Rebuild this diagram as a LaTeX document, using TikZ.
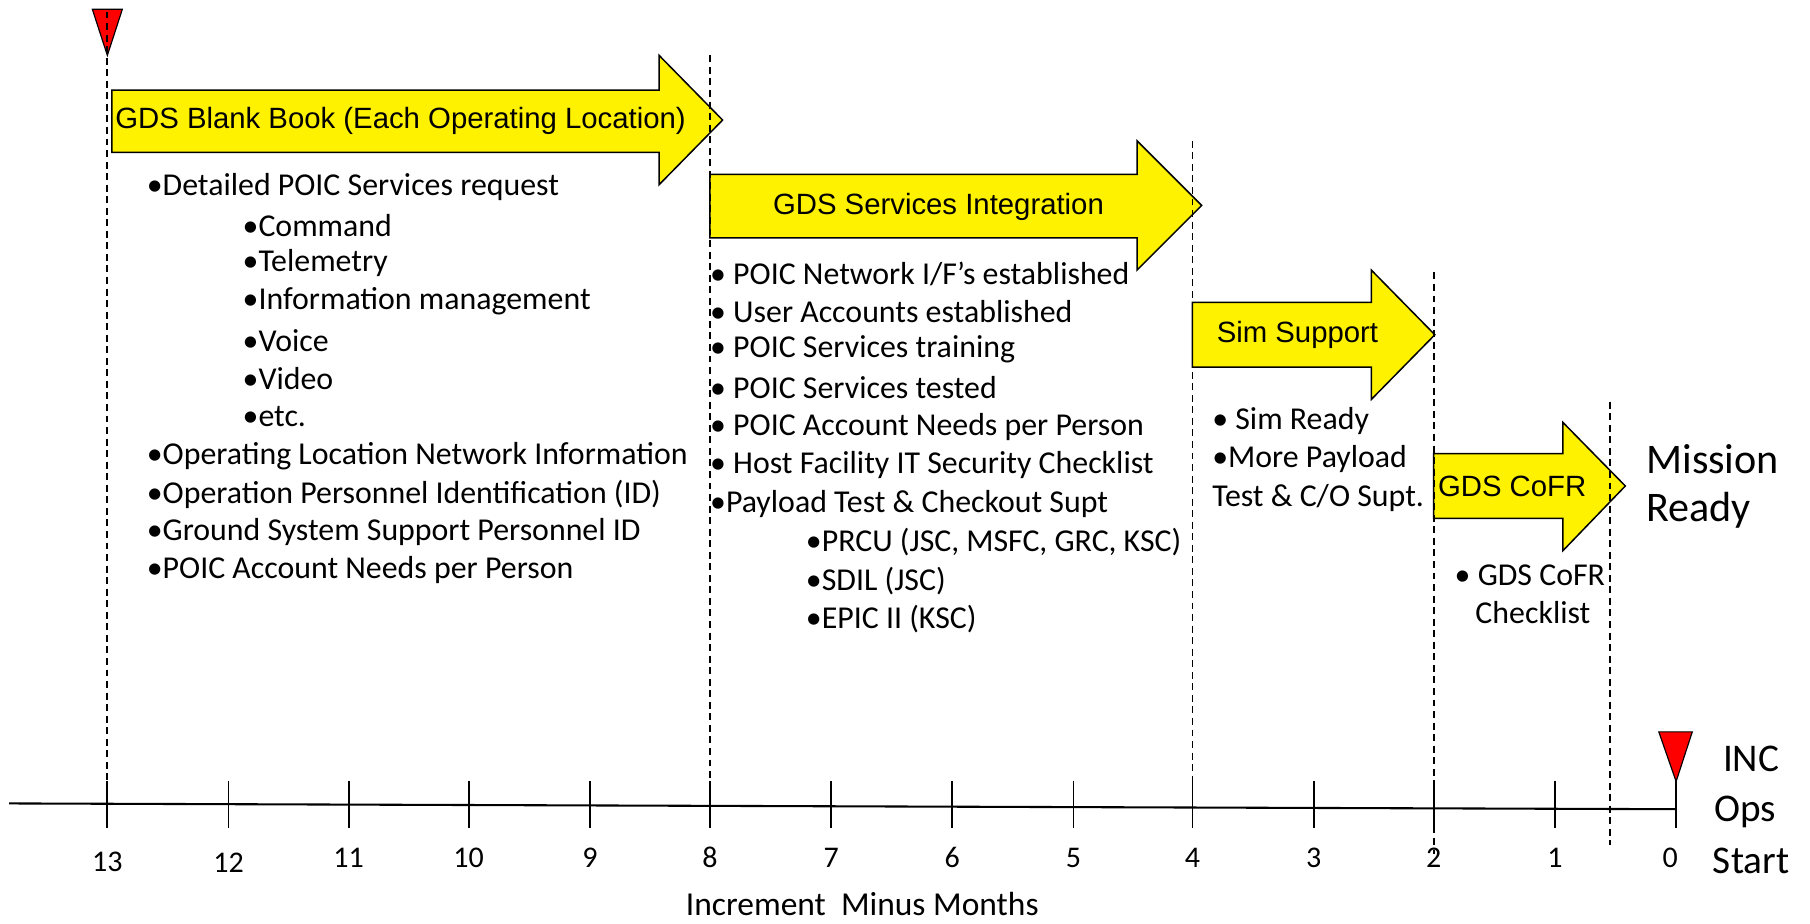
\documentclass[tikz,border=0pt]{standalone}
\usepackage{fontspec}
\setmainfont{Carlito}
\newfontfamily\arial{Liberation Sans}
\begin{document}
\begin{tikzpicture}[x=1pt,y=-1pt,
  dline/.style={dash pattern=on 6pt off 4pt, line width=1.6pt},
  yarrow/.style={fill=yellow, draw=black, line width=1.3pt, line join=miter},
  tri/.style={fill=red, draw=black, line width=1pt},
  item/.style={anchor=west, inner sep=0pt, font=\fontsize{27.6}{32}\selectfont},
  atext/.style={font=\arial\fontsize{25.4}{30}\selectfont, inner sep=0pt},
  num/.style={font=\fontsize{26}{30}\selectfont, inner sep=0pt},
  axtext/.style={font=\fontsize{29}{34}\selectfont, inner sep=0pt},
  big/.style={font=\fontsize{36.5}{42}\selectfont, inner sep=0pt, anchor=west},
  side/.style={font=\fontsize{34}{40}\selectfont, inner sep=0pt}]
\useasboundingbox (0,0) rectangle (1568,800);

% timeline axis
\coordinate (axL) at (8,696);
\coordinate (axR) at (1452,701);
\draw[line width=1.8pt] (axL) -- (axR);
\foreach \n/\x/\ly in {13/93/747,12/198/747,11/302/743,10/406/743,9/511/743,8/615/743,7/720/743,6/825/743,5/930/743,4/1033/743,3/1138/743,2/1242/743,1/1347/743,0/1447/743}{
  \node[num] (l\n) at (\x,\ly) {\n};
}
\foreach \n/\x in {13/93,12/198,11/302,10/406,9/511,8/615,7/720,6/825,5/930,4/1033,3/1138,2/1242,1/1347,0/1452}{
  \coordinate (t\n a) at (\x,677);
  \coordinate (t\n b) at (\x,717);
  \draw[line width=1.6pt] (t\n a) -- (t\n b);
}
\node[axtext] (axlabel) at (747,783) {Increment\ \ Minus Months};

% yellow phase arrows
\draw[yarrow] (97,78) -- (571,78) -- (571,48) -- (626,104) -- (571,160) -- (571,132) -- (97,132) -- cycle;
\node[atext] (a1) at (347,105) {GDS Blank Book (Each Operating Location)};
\draw[yarrow] (615,151) -- (985,151) -- (985,122) -- (1041,178) -- (985,234) -- (985,206) -- (615,206) -- cycle;
\node[atext] (a2) at (813,179) {GDS Services Integration};
\draw[yarrow] (1033,262) -- (1188,262) -- (1188,234) -- (1243,290) -- (1188,346) -- (1188,318) -- (1033,318) -- cycle;
\node[atext] (a3) at (1124,290) {Sim Support};
\draw[yarrow] (1242,393) -- (1354,393) -- (1354,366) -- (1408,421) -- (1354,477) -- (1354,449) -- (1242,449) -- cycle;
\node[atext] (a4) at (1310,421) {GDS CoFR};

% red triangles
\draw[tri] (80,8) -- (106,8) -- (93,48) -- cycle;
\draw[tri] (1437,634) -- (1466,634) -- (1452,677) -- cycle;

% dashed phase boundaries
\coordinate (d1a) at (93,10);   \coordinate (d1b) at (93,717);
\coordinate (d2a) at (615,48);  \coordinate (d2b) at (615,700);
\coordinate (d3a) at (1033,122);\coordinate (d3b) at (1033,700);
\coordinate (d4a) at (1242,236);\coordinate (d4b) at (1242,740);
\coordinate (d5a) at (1395,348);\coordinate (d5b) at (1395,732);
\foreach \i in {1,...,5}{\draw[dline] (d\i a) -- (d\i b);}

% left list
\node[item] (p1) at (127,162) {•Detailed POIC Services request};
\node[item] (p2) at (210,195) {•Command};
\node[item] (p3) at (210,228) {•Telemetry};
\node[item] (p4) at (210,261) {•Information management};
\node[item] (p5) at (210,295) {•Voice};
\node[item] (p6) at (210,328) {•Video};
\node[item] (p7) at (210,361) {•etc.};
\node[item] (p8) at (127,395) {•Operating Location Network Information};
\node[item] (p9) at (127,428) {•Operation Personnel Identification (ID)};
\node[item] (p10) at (127,461) {•Ground System Support Personnel ID};
\node[item] (p11) at (127,494) {•POIC Account Needs per Person};

% middle list
\node[item] (q1) at (615,237) {• POIC Network I/F’s established};
\node[item] (q2) at (615,270) {• User Accounts established};
\node[item] (q3) at (615,303) {• POIC Services training};
\node[item] (q4) at (615,336) {• POIC Services tested};
\node[item] (q5) at (615,370) {• POIC Account Needs per Person};
\node[item] (q6) at (615,403) {• Host Facility IT Security Checklist};
\node[item] (q7) at (615,437) {•Payload Test \& Checkout Supt};
\node[item] (q8) at (698,470) {•PRCU (JSC, MSFC, GRC, KSC)};
\node[item] (q9) at (698,503) {•SDIL (JSC)};
\node[item] (q10) at (698,536) {•EPIC II (KSC)};

% right lists
\node[item] (r1) at (1050,365) {• Sim Ready};
\node[item] (r2) at (1050,398) {•More Payload};
\node[item] (r3) at (1050,431) {Test \& C/O Supt.};
\node[item] (s1) at (1260,498) {• GDS CoFR};
\node[item] (s2) at (1278,531) {Checklist};

\node[big] (m1) at (1426,398) {Mission};
\node[big] (m2) at (1426,442) {Ready};

\node[side] (i1) at (1517,657) {INC};
\node[side] (i2) at (1512,703) {Ops};
\node[side] (i3) at (1517,746) {Start};
\end{tikzpicture}
\end{document}
